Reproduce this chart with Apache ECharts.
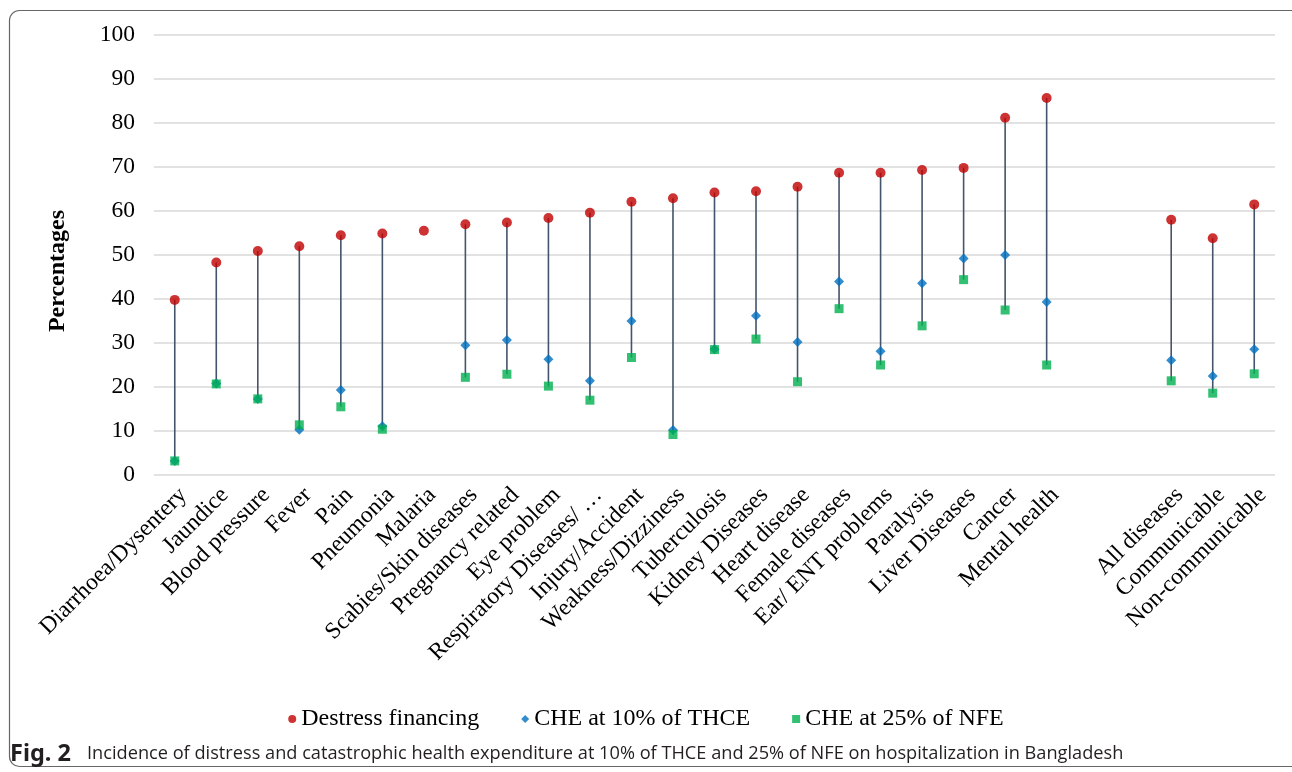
<!DOCTYPE html>
<html>
<head>
<meta charset="utf-8">
<script src="https://cdn.jsdelivr.net/npm/echarts@6/dist/echarts.min.js"></script>
<style>
html,body{margin:0;padding:0;background:#fff;}
#chart{width:1292px;height:772px;}
</style>
</head>
<body>
<div id="chart"></div>
<script>
const categories = ['Diarrhoea/Dysentery','Jaundice','Blood pressure','Fever','Pain','Pneumonia','Malaria','Scabies/Skin diseases','Pregnancy related','Eye problem','Respiratory Diseases/ …','Injury/Accident','Weakness/Dizziness','Tuberculosis','Kidney Diseases','Heart disease','Female diseases','Ear/ ENT problems','Paralysis','Liver Diseases','Cancer','Mental health','',' ','All diseases','Communicable','Non-communicable'];
const distress = [39.8,48.3,50.9,52.0,54.5,54.9,55.5,57.0,57.4,58.4,59.6,62.1,62.9,64.2,64.5,65.5,68.7,68.7,69.3,69.8,81.2,85.7,null,null,58.0,53.8,61.5];
const che10 = [3.2,20.8,17.3,10.3,19.3,11.1,null,29.5,30.7,26.3,21.4,35.0,10.2,28.6,36.2,30.2,44.0,28.1,43.6,49.2,50.0,39.3,null,null,26.1,22.5,28.6];
const che25 = [3.2,20.7,17.3,11.4,15.5,10.4,null,22.2,22.9,20.2,17.0,26.7,9.2,28.5,30.9,21.2,37.8,25.0,33.9,44.4,37.5,25.0,null,null,21.4,18.6,23.0];
const yTicks = [0,10,20,30,40,50,60,70,80,90,100];

const serif = "'Liberation Serif','Times New Roman',serif";

// high-low line data built from the series arrays
const hiLo = categories.map((c, i) => {
  const vals = [distress[i], che10[i], che25[i]].filter(v => v !== null);
  if (vals.length < 2) return [i, null, null];
  return [i, Math.max.apply(null, vals), Math.min.apply(null, vals)];
});

const chart = echarts.init(document.getElementById('chart'), null, {renderer: 'canvas'});
chart.setOption({
  backgroundColor: '#fff',
  animation: false,
  grid: {left: 154, right: 17, top: 35, bottom: 297, containLabel: false},
  xAxis: {
    type: 'category',
    data: categories,
    boundaryGap: true,
    axisLine: {show: false},
    axisTick: {show: false},
    axisLabel: {interval: 0, rotate: 45, margin: 8, verticalAlign: 'top', fontFamily: serif, fontSize: 23.5, color: '#000'}
  },
  yAxis: {
    type: 'value',
    min: yTicks[0], max: yTicks[yTicks.length - 1], interval: 10,
    axisLine: {show: false},
    axisTick: {show: false},
    axisLabel: {margin: 19, fontFamily: serif, fontSize: 23.5, color: '#000'},
    splitLine: {lineStyle: {color: '#D9D9D9', width: 1.5}}
  },
  legend: {
    bottom: 36,
    left: 'center',
    itemGap: 42,
    itemWidth: 8,
    itemHeight: 8,
    textStyle: {fontFamily: serif, fontSize: 24, color: '#000'},
    data: [
      {name: 'Destress financing', icon: 'circle'},
      {name: 'CHE at 10% of THCE', icon: 'diamond'},
      {name: 'CHE at 25% of NFE', icon: 'rect'}
    ]
  },
  graphic: [
    {type: 'rect', silent: true, shape: {x: 9.5, y: 10.5, width: 1300, height: 756, r: 10}, style: {fill: 'none', stroke: '#666', lineWidth: 1.2}, z: -1},
    {type: 'text', x: 58, y: 271, rotation: Math.PI / 2, style: {text: 'Percentages', font: "bold 24px 'Liberation Serif', serif", fill: '#000', align: 'center', verticalAlign: 'middle'}},
    {type: 'text', x: 10, y: 754, style: {text: 'Fig. 2', font: "bold 23.5px 'Noto Sans', sans-serif", fill: '#231F20', align: 'left', verticalAlign: 'middle'}},
    {type: 'text', x: 87, y: 754, style: {text: 'Incidence of distress and catastrophic health expenditure at 10% of THCE and 25% of NFE on hospitalization in Bangladesh', font: "18.2px 'Open Sans', sans-serif", fill: '#231F20', align: 'left', verticalAlign: 'middle'}}
  ],
  series: [
    {
      type: 'custom',
      name: 'hilo',
      data: hiLo,
      encode: {x: 0, y: [1, 2]},
      z: 1,
      renderItem: function (params, api) {
        const hi = api.value(1), lo = api.value(2);
        if (hi === null || lo === null || isNaN(hi) || isNaN(lo)) return null;
        const p1 = api.coord([api.value(0), hi]);
        const p2 = api.coord([api.value(0), lo]);
        return {type: 'line', shape: {x1: p1[0], y1: p1[1], x2: p2[0], y2: p2[1]}, style: {stroke: '#44546A', lineWidth: 1.6}};
      }
    },
    {name: 'Destress financing', type: 'scatter', data: distress, symbol: 'circle', symbolSize: 10, itemStyle: {color: '#C00000'}, z: 3},
    {name: 'CHE at 10% of THCE', type: 'scatter', data: che10, symbol: 'diamond', symbolSize: 10, itemStyle: {color: '#0070C0'}, z: 4},
    {name: 'CHE at 25% of NFE', type: 'scatter', data: che25, symbol: 'rect', symbolSize: 9, itemStyle: {color: '#00B050'}, z: 5}
  ]
});
</script>
</body>
</html>
